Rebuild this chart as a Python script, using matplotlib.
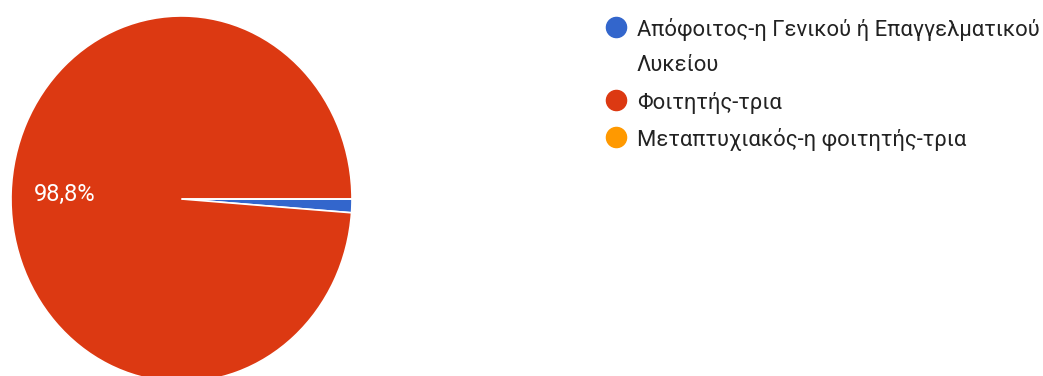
import matplotlib.pyplot as plt

plt.rcParams['font.family'] = ['Roboto', 'DejaVu Sans']

categories = [
    'Απόφοιτος-η Γενικού ή Επαγγελματικού\nΛυκείου',
    'Φοιτητής-τρια',
    'Μεταπτυχιακός-η φοιτητής-τρια',
]
shares = [1.2, 98.8, 0.0]
colors = ['#3366CC', '#DC3912', '#FF9900']

W, H = 1043, 376
fig = plt.figure(figsize=(W / 100, H / 100), dpi=100)

# pie axes: slightly taller than wide, so the pie comes out as an ellipse
cx, cy, rx, ry = 181.5, 199, 170.5, 183
ax = fig.add_axes([(cx - rx) / W, (H - cy - ry) / H, 2 * rx / W, 2 * ry / H])


def pct_label(p):
    if p < 5:
        return ''
    return f'{p:.1f}%'.replace('.', ',')


wedges, texts, autotexts = ax.pie(
    shares, colors=colors, startangle=0, counterclock=False,
    autopct=pct_label, pctdistance=0.685,
    wedgeprops=dict(edgecolor='white', linewidth=1.2),
    textprops=dict(color='white', fontsize=17),
)
ax.set_aspect('auto')
ax.set_xlim(-1.0, 1.0)
ax.set_ylim(-1.0, 1.0)
ax.axis('off')

# legend on the right, one circle per category, long labels wrap onto extra lines
line_h = 36
y = 27
for label, color in zip(categories, colors):
    fig.add_artist(plt.Line2D([616 / W], [1 - y / H], marker='o', markersize=14.5,
                              color=color, linestyle='none', transform=fig.transFigure))
    for k, part in enumerate(label.split('\n')):
        fig.text(637 / W, 1 - (y + k * line_h) / H, part, fontsize=15.8,
                 color='#222222', va='center_baseline', ha='left')
    y += line_h * (label.count('\n') + 1) + 1

fig.savefig('out.png', dpi=100)
